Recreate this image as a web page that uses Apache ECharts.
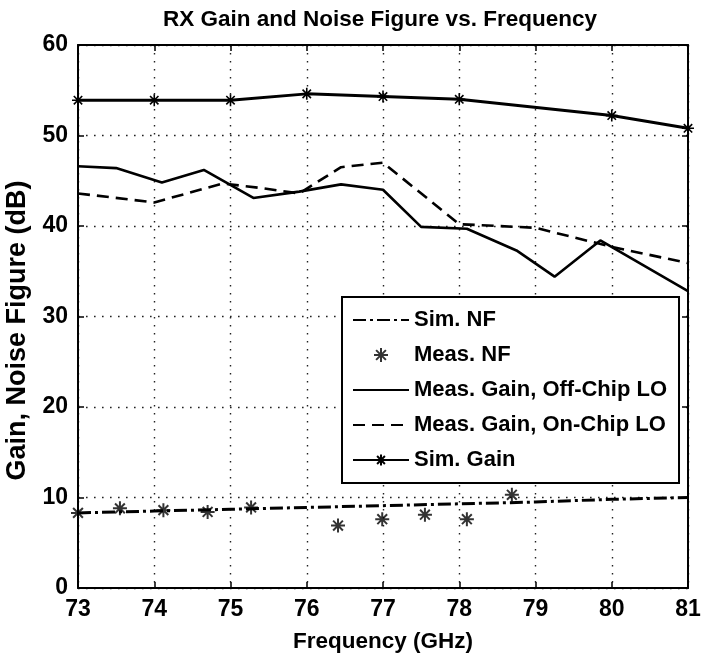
<!DOCTYPE html>
<html>
<head>
<meta charset="utf-8">
<script src="https://cdn.jsdelivr.net/npm/echarts@6/dist/echarts.min.js"></script>
<style>
  html, body { margin: 0; padding: 0; background: #fff; }
  #chart { width: 701px; height: 655px; }
</style>
</head>
<body>
<div id="chart"></div>
<script>
// Frequency sweep (GHz) and measured / simulated values (dB)
const simNfFreq   = [73, 74, 75, 76, 77, 78, 79, 80, 81];
const simNf       = [8.3, 8.5, 8.7, 8.9, 9.1, 9.3, 9.5, 9.8, 10.0];

const measNfFreq  = [73.0, 73.55, 74.12, 74.7, 75.27, 76.41, 76.99, 77.55, 78.1, 78.69];
const measNf      = [8.3, 8.8, 8.6, 8.4, 8.9, 6.9, 7.6, 8.1, 7.6, 10.3];

const offChipFreq = [73, 73.5, 74.1, 74.65, 75.3, 75.9, 76.45, 77.0, 77.5, 78.1, 78.75, 79.25, 79.85, 81];
const offChipGain = [46.6, 46.4, 44.8, 46.2, 43.1, 43.8, 44.6, 44.0, 39.9, 39.7, 37.3, 34.4, 38.4, 32.8];

const onChipFreq  = [73, 74, 74.9, 75.4, 75.9, 76.45, 77, 78, 79, 80, 81];
const onChipGain  = [43.6, 42.6, 44.7, 44.2, 43.6, 46.5, 47.0, 40.2, 39.8, 37.7, 35.9];

const simGainFreq = [73, 74, 75, 76, 77, 78, 80, 81];
const simGain     = [53.9, 53.9, 53.9, 54.6, 54.3, 54.0, 52.2, 50.8];

const xTicks = [73, 74, 75, 76, 77, 78, 79, 80, 81];
const yTicks = [0, 10, 20, 30, 40, 50, 60];

const seriesNames = ['Sim. NF', 'Meas. NF', 'Meas. Gain, Off-Chip LO', 'Meas. Gain, On-Chip LO', 'Sim. Gain'];

const pair = (xs, ys) => xs.map((x, i) => [x, ys[i]]);

// eight-armed asterisk marker
const star = 'path://M0,-5L0,5M-5,0L5,0M-3.5,-3.5L3.5,3.5M-3.5,3.5L3.5,-3.5';

const FONT = 'Liberation Sans';
const txt = { color: '#000', fontFamily: FONT, fontWeight: 'bold', fontSize: 22 };

const gridLine = { show: true, lineStyle: { color: '#222', width: 1.4, type: [1.6, 6.4] } };
const boxLine = { show: true, onZero: false, lineStyle: { color: '#000', width: 2 } };
const inTick = { show: true, inside: true, length: 6, lineStyle: { color: '#000', width: 1.5 } };

// plain lines get no marker in the legend
const legendItems = seriesNames.map((name, i) =>
  (i === 1 || i === 4) ? { name } : { name, itemStyle: { opacity: 0 } });

const chart = echarts.init(document.getElementById('chart'), null, { renderer: 'canvas' });

chart.setOption({
  backgroundColor: '#fff',
  animation: false,
  title: {
    text: 'RX Gain and Noise Figure vs. Frequency',
    left: 375, top: 3, textAlign: 'center',
    textStyle: Object.assign({}, txt, { fontSize: 22.5 })
  },
  grid: { left: 78, right: 13, top: 45, bottom: 67, containLabel: false, outerBoundsMode: 'none' },
  legend: {
    data: legendItems,
    orient: 'vertical',
    left: 342, top: 297,
    padding: [12, 12, 12, 10],
    itemWidth: 56, itemHeight: 14, itemGap: 13,
    backgroundColor: '#fff',
    borderColor: '#000', borderWidth: 2,
    textStyle: Object.assign({}, txt, { fontSize: 22 })
  },
  xAxis: [{
    type: 'value', min: 73, max: 81, interval: 1,
    name: 'Frequency (GHz)', nameLocation: 'middle', nameGap: 42,
    nameTextStyle: Object.assign({}, txt, { fontSize: 22.5 }),
    axisLine: boxLine, axisTick: inTick,
    axisLabel: Object.assign({ margin: 10, customValues: xTicks }, txt, { fontSize: 23 }),
    splitLine: gridLine
  }, {
    type: 'value', min: 73, max: 81, interval: 1, position: 'top',
    axisLine: boxLine, axisTick: inTick,
    axisLabel: { show: false }, splitLine: { show: false }
  }],
  yAxis: [{
    type: 'value', min: 0, max: 60, interval: 10,
    name: 'Gain, Noise Figure (dB)', nameLocation: 'middle', nameGap: 40,
    nameTextStyle: Object.assign({}, txt, { fontSize: 27, padding: [0, 28, 0, 0] }),
    axisLine: boxLine, axisTick: inTick,
    axisLabel: Object.assign({ margin: 10, customValues: yTicks }, txt, { fontSize: 23 }),
    splitLine: gridLine
  }, {
    type: 'value', min: 0, max: 60, interval: 10, position: 'right',
    axisLine: boxLine, axisTick: inTick,
    axisLabel: { show: false }, splitLine: { show: false }
  }],
  series: [{
    name: seriesNames[0], type: 'line', data: pair(simNfFreq, simNf),
    symbol: 'none', color: '#000', z: 3,
    lineStyle: { color: '#000', width: 3, type: [13, 4, 3, 4] }
  }, {
    name: seriesNames[1], type: 'scatter', data: pair(measNfFreq, measNf),
    symbol: star, symbolSize: 14, z: 4,
    itemStyle: { color: 'transparent', borderColor: '#000', borderWidth: 2 }
  }, {
    name: seriesNames[2], type: 'line', data: pair(offChipFreq, offChipGain),
    symbol: 'none', color: '#000', z: 3,
    lineStyle: { color: '#000', width: 2.6, type: 'solid' }
  }, {
    name: seriesNames[3], type: 'line', data: pair(onChipFreq, onChipGain),
    symbol: 'none', color: '#000', z: 3,
    lineStyle: { color: '#000', width: 2.6, type: [12, 7] }
  }, {
    name: seriesNames[4], type: 'line', data: pair(simGainFreq, simGain),
    symbol: star, symbolSize: 12, showSymbol: true, z: 3,
    itemStyle: { color: 'transparent', borderColor: '#000', borderWidth: 1.6 },
    lineStyle: { color: '#000', width: 3, type: 'solid' }
  }]
});
</script>
</body>
</html>
